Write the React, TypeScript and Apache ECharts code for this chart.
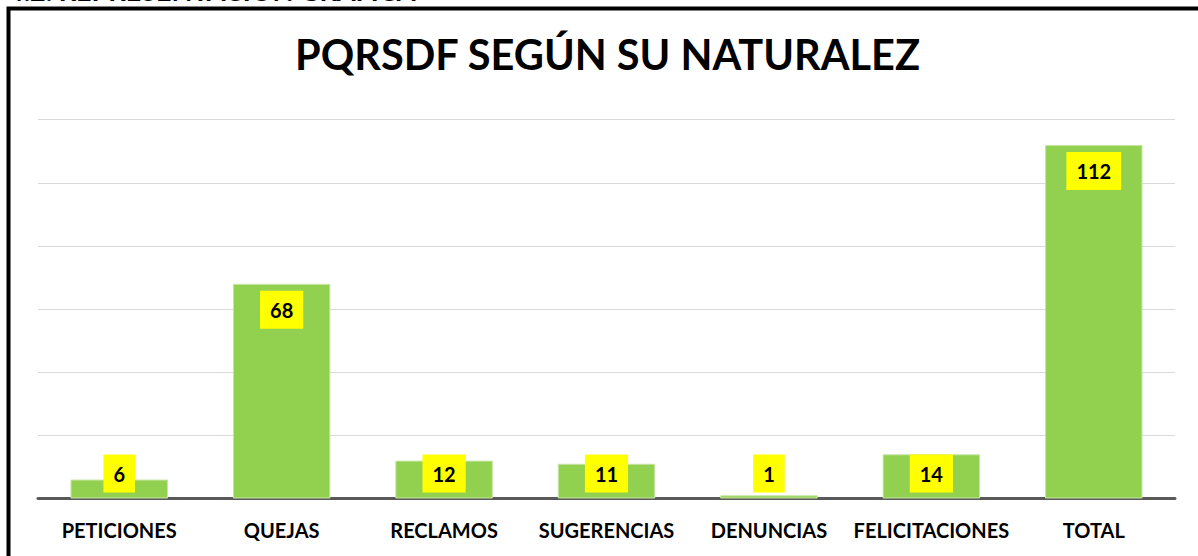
import React, { useEffect, useRef } from "react";
import * as echarts from "echarts";

const categories = ["PETICIONES", "QUEJAS", "RECLAMOS", "SUGERENCIAS", "DENUNCIAS", "FELICITACIONES", "TOTAL"];
const values = [6, 68, 12, 11, 1, 14, 112];
const titleText = "PQRSDF SEGÚN SU NATURALEZ";
const headingText = "4.2. REPRESENTACIÓN GRÁFICA";

const FONT = "Lato";

export default function App() {
  const ref = useRef<HTMLDivElement>(null);
  useEffect(() => {
    document.body.style.margin = "0";
    const chart = echarts.init(ref.current!, null, { renderer: "svg" });
    const data = values.map((v) => ({
      value: v,
      label:
        v >= 16
          ? { position: "insideTop", distance: 7 }
          : { position: "insideBottom", distance: 6 },
    }));
    chart.setOption({
      animation: false,
      backgroundColor: "#ffffff",
      title: {
        text: titleText,
        left: 295,
        top: 33,
        padding: 0,
        textStyle: { fontFamily: FONT, fontWeight: "bold", fontSize: 41.5, color: "#000" },
      },
      graphic: [
        {
          type: "text",
          left: 8,
          top: -23,
          style: { text: headingText, font: `bold 27px ${FONT}`, fill: "#000" },
        },
        {
          type: "rect",
          shape: { x: 8.5, y: 8.5, width: 1300, height: 700 },
          style: { fill: "none", stroke: "#000", lineWidth: 4 },
          z: 100,
        },
      ],
      grid: { left: 38, right: 23, top: 119.7, bottom: 57.5, containLabel: false },
      xAxis: {
        type: "category",
        data: categories,
        axisTick: { show: false },
        axisLine: { lineStyle: { color: "#595959", width: 3 } },
        axisLabel: {
          margin: 21,
          fontFamily: FONT,
          fontWeight: "bold",
          fontSize: 20,
          color: "#000",
          interval: 0,
        },
      },
      yAxis: {
        type: "value",
        min: 0,
        max: 120,
        interval: 20,
        axisLabel: { show: false },
        axisLine: { show: false },
        axisTick: { show: false },
        splitLine: { lineStyle: { color: "#d9d9d9", width: 1 } },
      },
      series: [
        {
          type: "bar",
          data,
          barWidth: "60%",
          itemStyle: { color: "#92D050", borderColor: "#c6e6a4", borderWidth: 1 },
          label: {
            show: true,
            fontFamily: FONT,
            fontWeight: "bold",
            fontSize: 20,
            color: "#000",
            backgroundColor: "#FFFF00",
            padding: [9, 10, 9, 10],
          },
        },
      ],
    });
    return () => chart.dispose();
  }, []);
  return <div ref={ref} style={{ width: 1198, height: 556 }} />;
}
